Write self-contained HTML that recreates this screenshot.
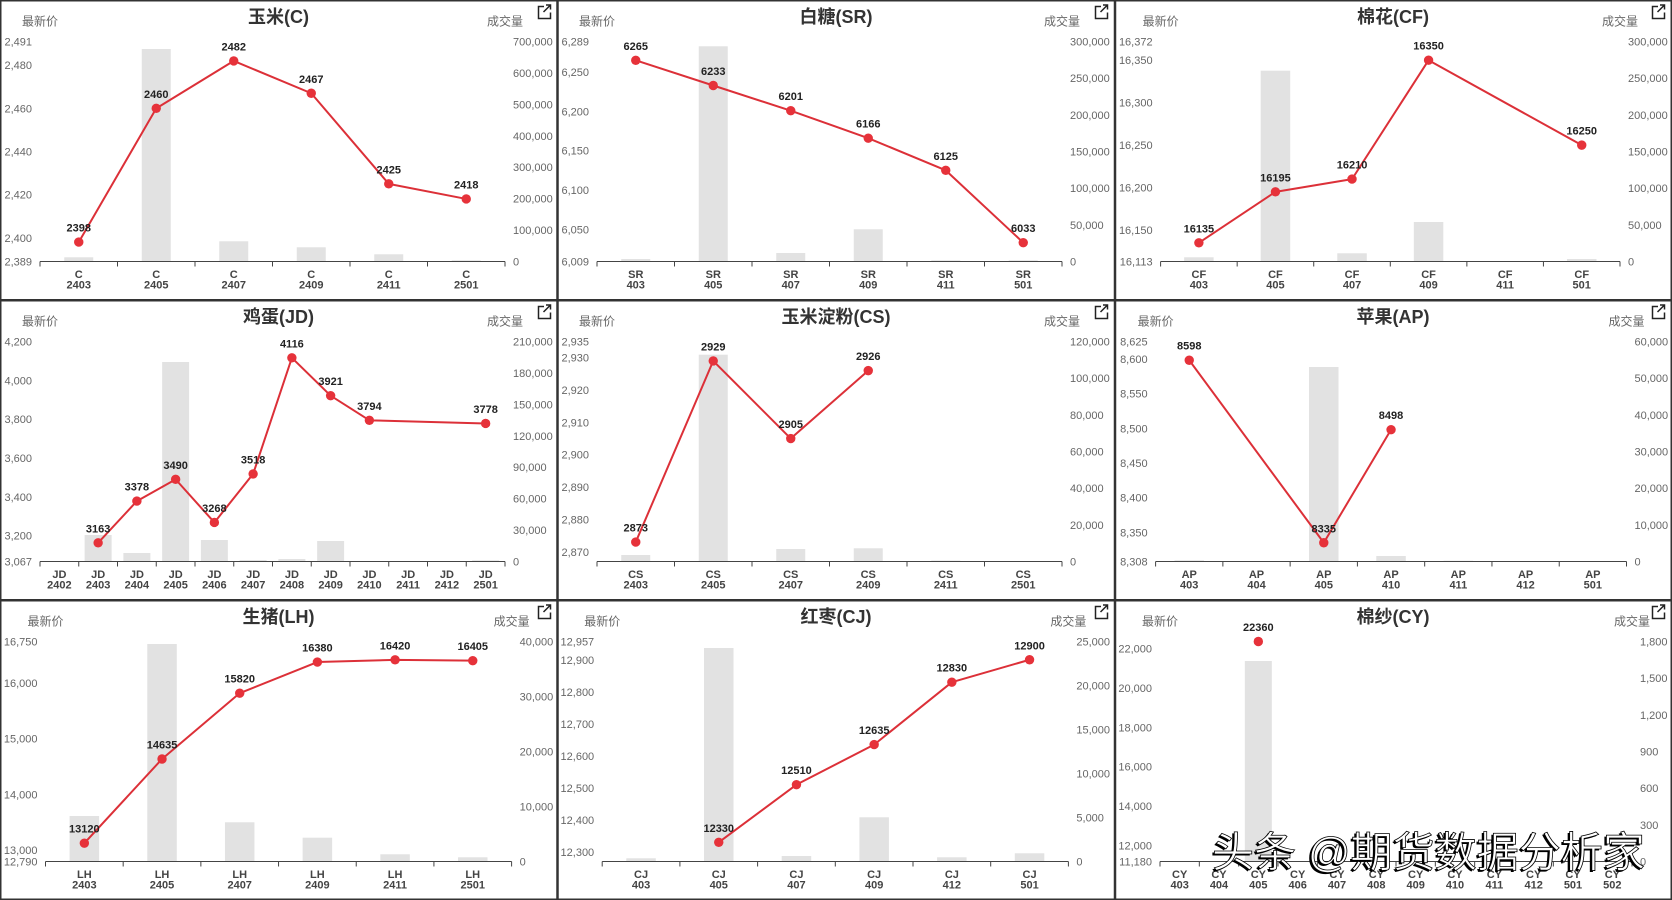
<!DOCTYPE html>
<html><head><meta charset="utf-8">
<style>
html,body{margin:0;padding:0;background:#fff;width:1672px;height:900px;overflow:hidden}
svg{display:block}
text{font-family:"Liberation Sans","Noto Sans CJK SC",sans-serif}
.t{font-size:18px;font-weight:bold;fill:#333;text-anchor:middle}
.n{font-size:12px;fill:#666;text-anchor:middle}
.yl{font-size:11px;fill:#666;text-anchor:end}
.yr{font-size:11px;fill:#666;text-anchor:start}
.xl{font-size:11px;font-weight:bold;fill:#444;text-anchor:middle}
.dl{font-size:11px;font-weight:bold;fill:#222;text-anchor:middle}
.bar{fill:#e2e2e2}
.ax{fill:none;stroke:#444;stroke-width:1}
.ln{fill:none;stroke:#dc3038;stroke-width:2;stroke-linejoin:round}
.pt{fill:#e6323a}
.ic{fill:none;stroke:#222;stroke-width:1.5}
.wm{font-family:"Liberation Sans","Noto Sans CJK SC",sans-serif;font-size:42px}
</style></head>
<body>
<svg width="1672" height="900" viewBox="0 0 1672 900" xmlns="http://www.w3.org/2000/svg">
<rect x="0" y="0" width="1672" height="900" fill="#fff"/>

<!-- ============ Panel C ============ -->
<g transform="translate(0,0)">
<text class="t" x="278.5" y="23">玉米(C)</text>
<text class="n" x="40" y="25.5">最新价</text>
<text class="n" x="505" y="25.5">成交量</text>
<path class="ic" d="M544 6.5H538.5V18.5H550.5V12.5"/><path class="ic" d="M543.5 12L550.5 5M546 5H550.5V9.5"/>
<rect class="bar" x="64.25" y="257.3" width="29" height="4.2"/>
<rect class="bar" x="141.75" y="49" width="29" height="212.5"/>
<rect class="bar" x="219.25" y="241.3" width="29" height="20.2"/>
<rect class="bar" x="296.75" y="247.3" width="29" height="14.2"/>
<rect class="bar" x="374.25" y="254.3" width="29" height="7.2"/>
<rect class="bar" x="451.75" y="260.3" width="29" height="1.2"/>
<path class="ax" d="M40 261.5H505M40 261.5v5M117.5 261.5v5M195 261.5v5M272.5 261.5v5M350 261.5v5M427.5 261.5v5M505 261.5v5"/>
<text class="yl" x="32" y="45.5">2,491</text><text class="yl" x="32" y="69.2">2,480</text><text class="yl" x="32" y="112.4">2,460</text><text class="yl" x="32" y="155.5">2,440</text><text class="yl" x="32" y="198.6">2,420</text><text class="yl" x="32" y="241.8">2,400</text><text class="yl" x="32" y="265.5">2,389</text>
<text class="yr" x="513" y="45.5">700,000</text><text class="yr" x="513" y="76.9">600,000</text><text class="yr" x="513" y="108.4">500,000</text><text class="yr" x="513" y="139.8">400,000</text><text class="yr" x="513" y="171.2">300,000</text><text class="yr" x="513" y="202.6">200,000</text><text class="yr" x="513" y="234.1">100,000</text><text class="yr" x="513" y="265.5">0</text>
<text class="xl" x="78.75" y="278">C<tspan x="78.75" y="288.5">2403</tspan></text>
<text class="xl" x="156.25" y="278">C<tspan x="156.25" y="288.5">2405</tspan></text>
<text class="xl" x="233.75" y="278">C<tspan x="233.75" y="288.5">2407</tspan></text>
<text class="xl" x="311.25" y="278">C<tspan x="311.25" y="288.5">2409</tspan></text>
<text class="xl" x="388.75" y="278">C<tspan x="388.75" y="288.5">2411</tspan></text>
<text class="xl" x="466.25" y="278">C<tspan x="466.25" y="288.5">2501</tspan></text>
<polyline class="ln" points="78.75,242.09 156.25,108.36 233.75,60.91 311.25,93.26 388.75,183.85 466.25,198.95"/>
<circle class="pt" cx="78.75" cy="242.09" r="4.7"/><circle class="pt" cx="156.25" cy="108.36" r="4.7"/><circle class="pt" cx="233.75" cy="60.91" r="4.7"/><circle class="pt" cx="311.25" cy="93.26" r="4.7"/><circle class="pt" cx="388.75" cy="183.85" r="4.7"/><circle class="pt" cx="466.25" cy="198.95" r="4.7"/>
<text class="dl" x="78.75" y="231.6">2398</text><text class="dl" x="156.25" y="97.9">2460</text><text class="dl" x="233.75" y="50.4">2482</text><text class="dl" x="311.25" y="82.8">2467</text><text class="dl" x="388.75" y="173.4">2425</text><text class="dl" x="466.25" y="188.5">2418</text>
</g>

<!-- ============ Panel SR ============ -->
<g transform="translate(557,0)">
<text class="t" x="279" y="23">白糖(SR)</text>
<text class="n" x="40" y="25.5">最新价</text>
<text class="n" x="505" y="25.5">成交量</text>
<path class="ic" d="M544 6.5H538.5V18.5H550.5V12.5"/><path class="ic" d="M543.5 12L550.5 5M546 5H550.5V9.5"/>
<rect class="bar" x="64.25" y="259" width="29" height="2.5"/>
<rect class="bar" x="141.75" y="46.3" width="29" height="215.2"/>
<rect class="bar" x="219.25" y="253" width="29" height="8.5"/>
<rect class="bar" x="296.75" y="229.3" width="29" height="32.2"/>
<rect class="bar" x="374.25" y="260.3" width="29" height="1.2"/>
<rect class="bar" x="451.75" y="260.3" width="29" height="1.2"/>
<path class="ax" d="M40 261.5H505M40 261.5v5M117.5 261.5v5M195 261.5v5M272.5 261.5v5M350 261.5v5M427.5 261.5v5M505 261.5v5"/>
<text class="yl" x="32" y="45.5">6,289</text><text class="yl" x="32" y="76.1">6,250</text><text class="yl" x="32" y="115.4">6,200</text><text class="yl" x="32" y="154.7">6,150</text><text class="yl" x="32" y="194">6,100</text><text class="yl" x="32" y="233.3">6,050</text><text class="yl" x="32" y="265.5">6,009</text>
<text class="yr" x="513" y="45.5">300,000</text><text class="yr" x="513" y="82.2">250,000</text><text class="yr" x="513" y="118.8">200,000</text><text class="yr" x="513" y="155.5">150,000</text><text class="yr" x="513" y="192.2">100,000</text><text class="yr" x="513" y="228.8">50,000</text><text class="yr" x="513" y="265.5">0</text>
<text class="xl" x="78.75" y="278">SR<tspan x="78.75" y="288.5">403</tspan></text>
<text class="xl" x="156.25" y="278">SR<tspan x="156.25" y="288.5">405</tspan></text>
<text class="xl" x="233.75" y="278">SR<tspan x="233.75" y="288.5">407</tspan></text>
<text class="xl" x="311.25" y="278">SR<tspan x="311.25" y="288.5">409</tspan></text>
<text class="xl" x="388.75" y="278">SR<tspan x="388.75" y="288.5">411</tspan></text>
<text class="xl" x="466.25" y="278">SR<tspan x="466.25" y="288.5">501</tspan></text>
<polyline class="ln" points="78.75,60.36 156.25,85.5 233.75,110.64 311.25,138.14 388.75,170.36 466.25,242.64"/>
<circle class="pt" cx="78.75" cy="60.36" r="4.7"/><circle class="pt" cx="156.25" cy="85.5" r="4.7"/><circle class="pt" cx="233.75" cy="110.64" r="4.7"/><circle class="pt" cx="311.25" cy="138.14" r="4.7"/><circle class="pt" cx="388.75" cy="170.36" r="4.7"/><circle class="pt" cx="466.25" cy="242.64" r="4.7"/>
<text class="dl" x="78.75" y="49.9">6265</text><text class="dl" x="156.25" y="75">6233</text><text class="dl" x="233.75" y="100.1">6201</text><text class="dl" x="311.25" y="127.6">6166</text><text class="dl" x="388.75" y="159.9">6125</text><text class="dl" x="466.25" y="232.1">6033</text>
</g>

<!-- ============ Panel CF ============ -->
<g transform="translate(1114,0)">
<text class="t" x="279" y="23">棉花(CF)</text>
<text class="n" x="46.6" y="25.5">最新价</text>
<text class="n" x="506" y="25.5">成交量</text>
<path class="ic" d="M544 6.5H538.5V18.5H550.5V12.5"/><path class="ic" d="M543.5 12L550.5 5M546 5H550.5V9.5"/>
<rect class="bar" x="70.13" y="257.3" width="29.5" height="4.2"/>
<rect class="bar" x="146.7" y="70.7" width="29.5" height="190.8"/>
<rect class="bar" x="223.27" y="253.3" width="29.5" height="8.2"/>
<rect class="bar" x="299.83" y="222" width="29.5" height="39.5"/>
<rect class="bar" x="452.97" y="259" width="29.5" height="2.5"/>
<path class="ax" d="M46.6 261.5H506M46.6 261.5v5M123.17 261.5v5M199.73 261.5v5M276.3 261.5v5M352.87 261.5v5M429.43 261.5v5M506 261.5v5"/>
<text class="yl" x="38.6" y="45.5">16,372</text><text class="yl" x="38.6" y="64.2">16,350</text><text class="yl" x="38.6" y="106.7">16,300</text><text class="yl" x="38.6" y="149.1">16,250</text><text class="yl" x="38.6" y="191.6">16,200</text><text class="yl" x="38.6" y="234.1">16,150</text><text class="yl" x="38.6" y="265.5">16,113</text>
<text class="yr" x="514" y="45.5">300,000</text><text class="yr" x="514" y="82.2">250,000</text><text class="yr" x="514" y="118.8">200,000</text><text class="yr" x="514" y="155.5">150,000</text><text class="yr" x="514" y="192.2">100,000</text><text class="yr" x="514" y="228.8">50,000</text><text class="yr" x="514" y="265.5">0</text>
<text class="xl" x="84.88" y="278">CF<tspan x="84.88" y="288.5">403</tspan></text>
<text class="xl" x="161.45" y="278">CF<tspan x="161.45" y="288.5">405</tspan></text>
<text class="xl" x="238.02" y="278">CF<tspan x="238.02" y="288.5">407</tspan></text>
<text class="xl" x="314.58" y="278">CF<tspan x="314.58" y="288.5">409</tspan></text>
<text class="xl" x="391.15" y="278">CF<tspan x="391.15" y="288.5">411</tspan></text>
<text class="xl" x="467.72" y="278">CF<tspan x="467.72" y="288.5">501</tspan></text>
<polyline class="ln" points="84.88,242.81 161.45,191.85 238.02,179.11 314.58,60.19 467.72,145.13"/>
<circle class="pt" cx="84.88" cy="242.81" r="4.7"/><circle class="pt" cx="161.45" cy="191.85" r="4.7"/><circle class="pt" cx="238.02" cy="179.11" r="4.7"/><circle class="pt" cx="314.58" cy="60.19" r="4.7"/><circle class="pt" cx="467.72" cy="145.13" r="4.7"/>
<text class="dl" x="84.88" y="232.3">16135</text><text class="dl" x="161.45" y="181.4">16195</text><text class="dl" x="238.02" y="168.6">16210</text><text class="dl" x="314.58" y="49.7">16350</text><text class="dl" x="467.72" y="134.6">16250</text>
</g>

<!-- ============ Panel JD ============ -->
<g transform="translate(0,300)">
<text class="t" x="278.5" y="23">鸡蛋(JD)</text>
<text class="n" x="40" y="25.5">最新价</text>
<text class="n" x="505" y="25.5">成交量</text>
<path class="ic" d="M544 6.5H538.5V18.5H550.5V12.5"/><path class="ic" d="M543.5 12L550.5 5M546 5H550.5V9.5"/>
<rect class="bar" x="84.63" y="235" width="27" height="26.5"/>
<rect class="bar" x="123.38" y="253" width="27" height="8.5"/>
<rect class="bar" x="162.13" y="62" width="27" height="199.5"/>
<rect class="bar" x="200.88" y="240" width="27" height="21.5"/>
<rect class="bar" x="239.63" y="260" width="27" height="1.5"/>
<rect class="bar" x="278.38" y="259" width="27" height="2.5"/>
<rect class="bar" x="317.13" y="241" width="27" height="20.5"/>
<rect class="bar" x="472.13" y="260.3" width="27" height="1.2"/>
<path class="ax" d="M40 261.5H505M40 261.5v5M78.75 261.5v5M117.5 261.5v5M156.25 261.5v5M195 261.5v5M233.75 261.5v5M272.5 261.5v5M311.25 261.5v5M350 261.5v5M388.75 261.5v5M427.5 261.5v5M466.25 261.5v5M505 261.5v5"/>
<text class="yl" x="32" y="45.5">4,200</text><text class="yl" x="32" y="84.3">4,000</text><text class="yl" x="32" y="123.2">3,800</text><text class="yl" x="32" y="162">3,600</text><text class="yl" x="32" y="200.8">3,400</text><text class="yl" x="32" y="239.7">3,200</text><text class="yl" x="32" y="265.5">3,067</text>
<text class="yr" x="513" y="45.5">210,000</text><text class="yr" x="513" y="76.9">180,000</text><text class="yr" x="513" y="108.4">150,000</text><text class="yr" x="513" y="139.8">120,000</text><text class="yr" x="513" y="171.2">90,000</text><text class="yr" x="513" y="202.6">60,000</text><text class="yr" x="513" y="234.1">30,000</text><text class="yr" x="513" y="265.5">0</text>
<text class="xl" x="59.38" y="278">JD<tspan x="59.38" y="288.5">2402</tspan></text>
<text class="xl" x="98.13" y="278">JD<tspan x="98.13" y="288.5">2403</tspan></text>
<text class="xl" x="136.88" y="278">JD<tspan x="136.88" y="288.5">2404</tspan></text>
<text class="xl" x="175.63" y="278">JD<tspan x="175.63" y="288.5">2405</tspan></text>
<text class="xl" x="214.38" y="278">JD<tspan x="214.38" y="288.5">2406</tspan></text>
<text class="xl" x="253.13" y="278">JD<tspan x="253.13" y="288.5">2407</tspan></text>
<text class="xl" x="291.88" y="278">JD<tspan x="291.88" y="288.5">2408</tspan></text>
<text class="xl" x="330.63" y="278">JD<tspan x="330.63" y="288.5">2409</tspan></text>
<text class="xl" x="369.38" y="278">JD<tspan x="369.38" y="288.5">2410</tspan></text>
<text class="xl" x="408.13" y="278">JD<tspan x="408.13" y="288.5">2411</tspan></text>
<text class="xl" x="446.88" y="278">JD<tspan x="446.88" y="288.5">2412</tspan></text>
<text class="xl" x="485.63" y="278">JD<tspan x="485.63" y="288.5">2501</tspan></text>
<polyline class="ln" points="98.13,242.86 136.88,201.11 175.63,179.36 214.38,222.47 253.13,173.93 291.88,57.81 330.63,95.67 369.38,120.33 485.63,123.44"/>
<circle class="pt" cx="98.13" cy="242.86" r="4.7"/><circle class="pt" cx="136.88" cy="201.11" r="4.7"/><circle class="pt" cx="175.63" cy="179.36" r="4.7"/><circle class="pt" cx="214.38" cy="222.47" r="4.7"/><circle class="pt" cx="253.13" cy="173.93" r="4.7"/><circle class="pt" cx="291.88" cy="57.81" r="4.7"/><circle class="pt" cx="330.63" cy="95.67" r="4.7"/><circle class="pt" cx="369.38" cy="120.33" r="4.7"/><circle class="pt" cx="485.63" cy="123.44" r="4.7"/>
<text class="dl" x="98.13" y="232.4">3163</text><text class="dl" x="136.88" y="190.6">3378</text><text class="dl" x="175.63" y="168.9">3490</text><text class="dl" x="214.38" y="212">3268</text><text class="dl" x="253.13" y="163.4">3518</text><text class="dl" x="291.88" y="47.3">4116</text><text class="dl" x="330.63" y="85.2">3921</text><text class="dl" x="369.38" y="109.8">3794</text><text class="dl" x="485.63" y="112.9">3778</text>
</g>

<!-- ============ Panel CS ============ -->
<g transform="translate(557,300)">
<text class="t" x="279" y="23">玉米淀粉(CS)</text>
<text class="n" x="40" y="25.5">最新价</text>
<text class="n" x="505" y="25.5">成交量</text>
<path class="ic" d="M544 6.5H538.5V18.5H550.5V12.5"/><path class="ic" d="M543.5 12L550.5 5M546 5H550.5V9.5"/>
<rect class="bar" x="64.25" y="255" width="29" height="6.5"/>
<rect class="bar" x="141.75" y="54.7" width="29" height="206.8"/>
<rect class="bar" x="219.25" y="249" width="29" height="12.5"/>
<rect class="bar" x="296.75" y="248.3" width="29" height="13.2"/>
<rect class="bar" x="374.25" y="260.5" width="29" height="1"/>
<path class="ax" d="M40 261.5H505M40 261.5v5M117.5 261.5v5M195 261.5v5M272.5 261.5v5M350 261.5v5M427.5 261.5v5M505 261.5v5"/>
<text class="yl" x="32" y="45.5">2,935</text><text class="yl" x="32" y="61.7">2,930</text><text class="yl" x="32" y="94">2,920</text><text class="yl" x="32" y="126.4">2,910</text><text class="yl" x="32" y="158.7">2,900</text><text class="yl" x="32" y="191.1">2,890</text><text class="yl" x="32" y="223.4">2,880</text><text class="yl" x="32" y="255.8">2,870</text>
<text class="yr" x="513" y="45.5">120,000</text><text class="yr" x="513" y="82.2">100,000</text><text class="yr" x="513" y="118.8">80,000</text><text class="yr" x="513" y="155.5">60,000</text><text class="yr" x="513" y="192.2">40,000</text><text class="yr" x="513" y="228.8">20,000</text><text class="yr" x="513" y="265.5">0</text>
<text class="xl" x="78.75" y="278">CS<tspan x="78.75" y="288.5">2403</tspan></text>
<text class="xl" x="156.25" y="278">CS<tspan x="156.25" y="288.5">2405</tspan></text>
<text class="xl" x="233.75" y="278">CS<tspan x="233.75" y="288.5">2407</tspan></text>
<text class="xl" x="311.25" y="278">CS<tspan x="311.25" y="288.5">2409</tspan></text>
<text class="xl" x="388.75" y="278">CS<tspan x="388.75" y="288.5">2411</tspan></text>
<text class="xl" x="466.25" y="278">CS<tspan x="466.25" y="288.5">2501</tspan></text>
<polyline class="ln" points="78.75,242.09 156.25,60.91 233.75,138.56 311.25,70.62"/>
<circle class="pt" cx="78.75" cy="242.09" r="4.7"/><circle class="pt" cx="156.25" cy="60.91" r="4.7"/><circle class="pt" cx="233.75" cy="138.56" r="4.7"/><circle class="pt" cx="311.25" cy="70.62" r="4.7"/>
<text class="dl" x="78.75" y="231.6">2873</text><text class="dl" x="156.25" y="50.4">2929</text><text class="dl" x="233.75" y="128.1">2905</text><text class="dl" x="311.25" y="60.1">2926</text>
</g>

<!-- ============ Panel AP ============ -->
<g transform="translate(1114,300)">
<text class="t" x="279" y="23">苹果(AP)</text>
<text class="n" x="41.6" y="25.5">最新价</text>
<text class="n" x="512.5" y="25.5">成交量</text>
<path class="ic" d="M544 6.5H538.5V18.5H550.5V12.5"/><path class="ic" d="M543.5 12L550.5 5M546 5H550.5V9.5"/>
<rect class="bar" x="60.49" y="260.3" width="29.5" height="1.2"/>
<rect class="bar" x="195.03" y="67" width="29.5" height="194.5"/>
<rect class="bar" x="262.3" y="256" width="29.5" height="5.5"/>
<rect class="bar" x="329.57" y="260.7" width="29.5" height="0.8"/>
<path class="ax" d="M41.6 261.5H512.5M41.6 261.5v5M108.87 261.5v5M176.14 261.5v5M243.41 261.5v5M310.68 261.5v5M377.95 261.5v5M445.23 261.5v5M512.5 261.5v5"/>
<text class="yl" x="33.6" y="45.5">8,625</text><text class="yl" x="33.6" y="62.9">8,600</text><text class="yl" x="33.6" y="97.6">8,550</text><text class="yl" x="33.6" y="132.3">8,500</text><text class="yl" x="33.6" y="167">8,450</text><text class="yl" x="33.6" y="201.7">8,400</text><text class="yl" x="33.6" y="236.4">8,350</text><text class="yl" x="33.6" y="265.5">8,308</text>
<text class="yr" x="520.5" y="45.5">60,000</text><text class="yr" x="520.5" y="82.2">50,000</text><text class="yr" x="520.5" y="118.8">40,000</text><text class="yr" x="520.5" y="155.5">30,000</text><text class="yr" x="520.5" y="192.2">20,000</text><text class="yr" x="520.5" y="228.8">10,000</text><text class="yr" x="520.5" y="265.5">0</text>
<text class="xl" x="75.24" y="278">AP<tspan x="75.24" y="288.5">403</tspan></text>
<text class="xl" x="142.51" y="278">AP<tspan x="142.51" y="288.5">404</tspan></text>
<text class="xl" x="209.78" y="278">AP<tspan x="209.78" y="288.5">405</tspan></text>
<text class="xl" x="277.05" y="278">AP<tspan x="277.05" y="288.5">410</tspan></text>
<text class="xl" x="344.32" y="278">AP<tspan x="344.32" y="288.5">411</tspan></text>
<text class="xl" x="411.59" y="278">AP<tspan x="411.59" y="288.5">412</tspan></text>
<text class="xl" x="478.86" y="278">AP<tspan x="478.86" y="288.5">501</tspan></text>
<polyline class="ln" points="75.24,60.24 209.78,242.76 277.05,129.64"/>
<circle class="pt" cx="75.24" cy="60.24" r="4.7"/><circle class="pt" cx="209.78" cy="242.76" r="4.7"/><circle class="pt" cx="277.05" cy="129.64" r="4.7"/>
<text class="dl" x="75.24" y="49.7">8598</text><text class="dl" x="209.78" y="232.3">8335</text><text class="dl" x="277.05" y="119.1">8498</text>
</g>

<!-- ============ Panel LH ============ -->
<g transform="translate(0,600)">
<text class="t" x="278.5" y="23">生猪(LH)</text>
<text class="n" x="45.5" y="25.5">最新价</text>
<text class="n" x="511.6" y="25.5">成交量</text>
<path class="ic" d="M544 6.5H538.5V18.5H550.5V12.5"/><path class="ic" d="M543.5 12L550.5 5M546 5H550.5V9.5"/>
<rect class="bar" x="69.59" y="216" width="29.5" height="45.5"/>
<rect class="bar" x="147.28" y="44" width="29.5" height="217.5"/>
<rect class="bar" x="224.96" y="222.3" width="29.5" height="39.2"/>
<rect class="bar" x="302.64" y="237.7" width="29.5" height="23.8"/>
<rect class="bar" x="380.33" y="254.3" width="29.5" height="7.2"/>
<rect class="bar" x="458.01" y="257.3" width="29.5" height="4.2"/>
<path class="ax" d="M45.5 261.5H511.6M45.5 261.5v5M123.18 261.5v5M200.87 261.5v5M278.55 261.5v5M356.23 261.5v5M433.92 261.5v5M511.6 261.5v5"/>
<text class="yl" x="37.5" y="45.5">16,750</text><text class="yl" x="37.5" y="87.2">16,000</text><text class="yl" x="37.5" y="142.7">15,000</text><text class="yl" x="37.5" y="198.3">14,000</text><text class="yl" x="37.5" y="253.8">13,000</text><text class="yl" x="37.5" y="265.5">12,790</text>
<text class="yr" x="519.6" y="45.5">40,000</text><text class="yr" x="519.6" y="100.5">30,000</text><text class="yr" x="519.6" y="155.5">20,000</text><text class="yr" x="519.6" y="210.5">10,000</text><text class="yr" x="519.6" y="265.5">0</text>
<text class="xl" x="84.34" y="278">LH<tspan x="84.34" y="288.5">2403</tspan></text>
<text class="xl" x="162.03" y="278">LH<tspan x="162.03" y="288.5">2405</tspan></text>
<text class="xl" x="239.71" y="278">LH<tspan x="239.71" y="288.5">2407</tspan></text>
<text class="xl" x="317.39" y="278">LH<tspan x="317.39" y="288.5">2409</tspan></text>
<text class="xl" x="395.08" y="278">LH<tspan x="395.08" y="288.5">2411</tspan></text>
<text class="xl" x="472.76" y="278">LH<tspan x="472.76" y="288.5">2501</tspan></text>
<polyline class="ln" points="84.34,243.17 162.03,159 239.71,93.17 317.39,62.06 395.08,59.83 472.76,60.67"/>
<circle class="pt" cx="84.34" cy="243.17" r="4.7"/><circle class="pt" cx="162.03" cy="159" r="4.7"/><circle class="pt" cx="239.71" cy="93.17" r="4.7"/><circle class="pt" cx="317.39" cy="62.06" r="4.7"/><circle class="pt" cx="395.08" cy="59.83" r="4.7"/><circle class="pt" cx="472.76" cy="60.67" r="4.7"/>
<text class="dl" x="84.34" y="232.7">13120</text><text class="dl" x="162.03" y="148.5">14635</text><text class="dl" x="239.71" y="82.7">15820</text><text class="dl" x="317.39" y="51.6">16380</text><text class="dl" x="395.08" y="49.3">16420</text><text class="dl" x="472.76" y="50.2">16405</text>
</g>

<!-- ============ Panel CJ ============ -->
<g transform="translate(557,600)">
<text class="t" x="279" y="23">红枣(CJ)</text>
<text class="n" x="45.2" y="25.5">最新价</text>
<text class="n" x="511.4" y="25.5">成交量</text>
<path class="ic" d="M544 6.5H538.5V18.5H550.5V12.5"/><path class="ic" d="M543.5 12L550.5 5M546 5H550.5V9.5"/>
<rect class="bar" x="69.3" y="258.3" width="29.5" height="3.2"/>
<rect class="bar" x="147" y="48" width="29.5" height="213.5"/>
<rect class="bar" x="224.7" y="256" width="29.5" height="5.5"/>
<rect class="bar" x="302.4" y="217.3" width="29.5" height="44.2"/>
<rect class="bar" x="380.1" y="257.3" width="29.5" height="4.2"/>
<rect class="bar" x="457.8" y="253.3" width="29.5" height="8.2"/>
<path class="ax" d="M45.2 261.5H511.4M45.2 261.5v5M122.9 261.5v5M200.6 261.5v5M278.3 261.5v5M356 261.5v5M433.7 261.5v5M511.4 261.5v5"/>
<text class="yl" x="37.2" y="45.5">12,957</text><text class="yl" x="37.2" y="63.8">12,900</text><text class="yl" x="37.2" y="95.8">12,800</text><text class="yl" x="37.2" y="127.8">12,700</text><text class="yl" x="37.2" y="159.8">12,600</text><text class="yl" x="37.2" y="191.9">12,500</text><text class="yl" x="37.2" y="223.9">12,400</text><text class="yl" x="37.2" y="255.9">12,300</text>
<text class="yr" x="519.4" y="45.5">25,000</text><text class="yr" x="519.4" y="89.5">20,000</text><text class="yr" x="519.4" y="133.5">15,000</text><text class="yr" x="519.4" y="177.5">10,000</text><text class="yr" x="519.4" y="221.5">5,000</text><text class="yr" x="519.4" y="265.5">0</text>
<text class="xl" x="84.05" y="278">CJ<tspan x="84.05" y="288.5">403</tspan></text>
<text class="xl" x="161.75" y="278">CJ<tspan x="161.75" y="288.5">405</tspan></text>
<text class="xl" x="239.45" y="278">CJ<tspan x="239.45" y="288.5">407</tspan></text>
<text class="xl" x="317.15" y="278">CJ<tspan x="317.15" y="288.5">409</tspan></text>
<text class="xl" x="394.85" y="278">CJ<tspan x="394.85" y="288.5">412</tspan></text>
<text class="xl" x="472.55" y="278">CJ<tspan x="472.55" y="288.5">501</tspan></text>
<polyline class="ln" points="161.75,242.29 239.45,184.64 317.15,144.61 394.85,82.17 472.55,59.75"/>
<circle class="pt" cx="161.75" cy="242.29" r="4.7"/><circle class="pt" cx="239.45" cy="184.64" r="4.7"/><circle class="pt" cx="317.15" cy="144.61" r="4.7"/><circle class="pt" cx="394.85" cy="82.17" r="4.7"/><circle class="pt" cx="472.55" cy="59.75" r="4.7"/>
<text class="dl" x="161.75" y="231.8">12330</text><text class="dl" x="239.45" y="174.1">12510</text><text class="dl" x="317.15" y="134.1">12635</text><text class="dl" x="394.85" y="71.7">12830</text><text class="dl" x="472.55" y="49.3">12900</text>
</g>

<!-- ============ Panel CY ============ -->
<g transform="translate(1114,600)">
<text class="t" x="279" y="23">棉纱(CY)</text>
<text class="n" x="46" y="25.5">最新价</text>
<text class="n" x="518" y="25.5">成交量</text>
<path class="ic" d="M544 6.5H538.5V18.5H550.5V12.5"/><path class="ic" d="M543.5 12L550.5 5M546 5H550.5V9.5"/>
<rect class="bar" x="130.83" y="61" width="27" height="200.5"/>
<path class="ax" d="M46 261.5H518M46 261.5v5M85.33 261.5v5M124.67 261.5v5M164 261.5v5M203.33 261.5v5M242.67 261.5v5M282 261.5v5M321.33 261.5v5M360.67 261.5v5M400 261.5v5M439.33 261.5v5M478.67 261.5v5M518 261.5v5"/>
<text class="yl" x="38" y="52.6">22,000</text><text class="yl" x="38" y="91.9">20,000</text><text class="yl" x="38" y="131.3">18,000</text><text class="yl" x="38" y="170.7">16,000</text><text class="yl" x="38" y="210">14,000</text><text class="yl" x="38" y="249.4">12,000</text><text class="yl" x="38" y="265.5">11,180</text>
<text class="yr" x="526" y="45.5">1,800</text><text class="yr" x="526" y="82.2">1,500</text><text class="yr" x="526" y="118.8">1,200</text><text class="yr" x="526" y="155.5">900</text><text class="yr" x="526" y="192.2">600</text><text class="yr" x="526" y="228.8">300</text><text class="yr" x="526" y="265.5">0</text>
<text class="xl" x="65.67" y="278">CY<tspan x="65.67" y="288.5">403</tspan></text>
<text class="xl" x="105" y="278">CY<tspan x="105" y="288.5">404</tspan></text>
<text class="xl" x="144.33" y="278">CY<tspan x="144.33" y="288.5">405</tspan></text>
<text class="xl" x="183.67" y="278">CY<tspan x="183.67" y="288.5">406</tspan></text>
<text class="xl" x="223" y="278">CY<tspan x="223" y="288.5">407</tspan></text>
<text class="xl" x="262.33" y="278">CY<tspan x="262.33" y="288.5">408</tspan></text>
<text class="xl" x="301.67" y="278">CY<tspan x="301.67" y="288.5">409</tspan></text>
<text class="xl" x="341" y="278">CY<tspan x="341" y="288.5">410</tspan></text>
<text class="xl" x="380.33" y="278">CY<tspan x="380.33" y="288.5">411</tspan></text>
<text class="xl" x="419.67" y="278">CY<tspan x="419.67" y="288.5">412</tspan></text>
<text class="xl" x="459" y="278">CY<tspan x="459" y="288.5">501</tspan></text>
<text class="xl" x="498.33" y="278">CY<tspan x="498.33" y="288.5">502</tspan></text>
<circle class="pt" cx="144.33" cy="41.5" r="4.7"/>
<text class="dl" x="144.33" y="31">22360</text>
</g>

<!-- ============ Borders ============ -->
<rect x="0.75" y="0.75" width="1670.5" height="898.5" fill="none" stroke="#333" stroke-width="1.5"/>
<path d="M557.5 0V900M1115 0V900M0 300.3H1672M0 600.3H1672" stroke="#333" stroke-width="2.5" fill="none"/>

<!-- ============ Watermark ============ -->
<text class="wm" x="1210" y="868.5" fill="#000" textLength="433" lengthAdjust="spacingAndGlyphs">头条 @期货数据分析家</text>
<text class="wm" x="1212" y="867" fill="#fff" stroke="#000" stroke-width="0.8" textLength="433" lengthAdjust="spacingAndGlyphs">头条 @期货数据分析家</text>
</svg>
</body></html>
